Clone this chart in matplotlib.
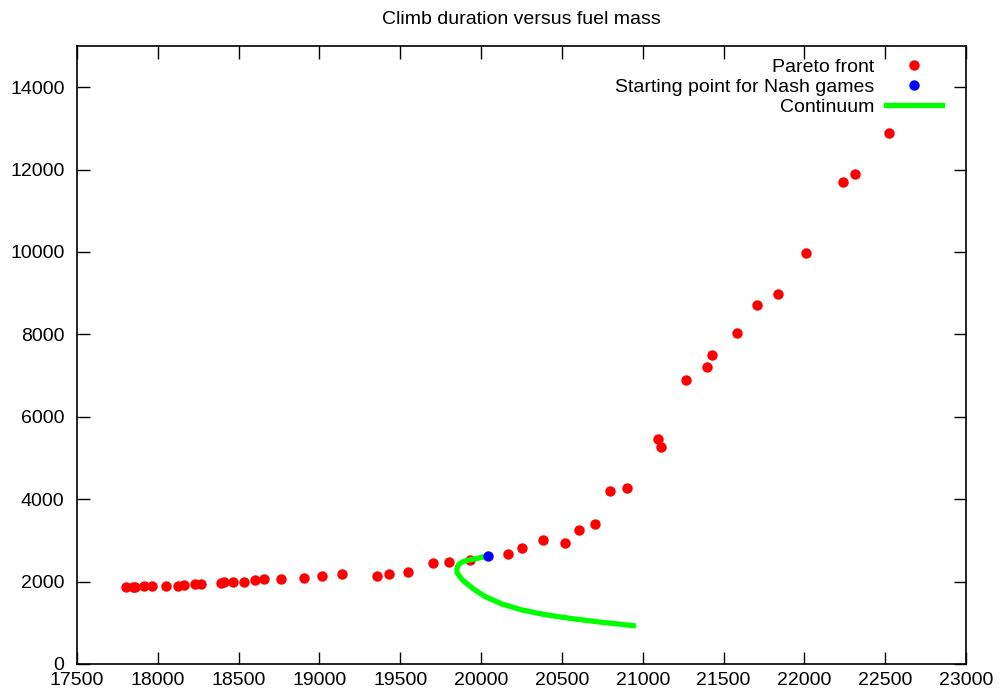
import matplotlib
matplotlib.use("Agg")
import matplotlib.pyplot as plt

plt.rcParams['font.family'] = ['Liberation Sans', 'DejaVu Sans']

# Pareto front: fuel mass vs climb duration
fuel = [17801, 17847, 17861, 17915, 17964, 18053, 18125, 18164, 18228, 18265,
        18389, 18410, 18465, 18533, 18603, 18657, 18760, 18907, 19018, 19138,
        19356, 19431, 19548, 19701, 19804, 19930, 20165, 20252, 20382, 20522,
        20608, 20705, 20800, 20901, 21097, 21116, 21268, 21396, 21429, 21582,
        21708, 21834, 22013, 22242, 22314, 22523]
duration = [1864, 1864, 1864, 1895, 1888, 1903, 1903, 1920, 1936, 1936,
            1968, 1993, 1993, 1993, 2034, 2058, 2058, 2090, 2146, 2194,
            2146, 2187, 2228, 2447, 2486, 2535, 2673, 2811, 3006, 2948,
            3249, 3409, 4187, 4260, 5455, 5270, 6901, 7217, 7497, 8036,
            8724, 8991, 9980, 11705, 11890, 12896]

# starting point for Nash games
nash_fuel = [20045]
nash_duration = [2617]

# continuum curve
cont_fuel = [20045, 20003, 19963, 19920, 19890, 19868, 19856, 19850, 19852, 19864,
             19880, 19901, 19952, 20025, 20128, 20252, 20396, 20561, 20747, 20942]
cont_duration = [2617, 2590, 2552, 2520, 2487, 2440, 2389, 2284, 2210, 2146,
                 2060, 1985, 1823, 1636, 1458, 1312, 1198, 1101, 1013, 931]

fig = plt.figure(figsize=(10.01, 6.97), dpi=100)
ax = fig.add_axes([77/1001, 33/697, 889/1001, 618/697])

ax.plot(fuel, duration, 'o', color='#ff0000', ms=7.5, mew=0, label='Pareto front', zorder=2)
ax.plot(cont_fuel, cont_duration, '-', color='#00ff00', lw=3.8, label='Continuum',
        zorder=3, solid_joinstyle='round')
ax.plot(nash_fuel, nash_duration, 'o', color='#0000ff', ms=7.5, mew=0,
        label='Starting point for Nash games', zorder=4)

ax.set_xlim(17500, 23000)
ax.set_ylim(0, 15000)
ax.set_xticks(range(17500, 23001, 500))
ax.set_yticks(range(0, 14001, 2000))
ax.tick_params(direction='in', length=9, width=1, top=True, right=True, labelsize=14)
ax.tick_params(axis='x', pad=6)
ax.tick_params(axis='y', pad=9)
for s in ax.spines.values():
    s.set_linewidth(1.2)

ax.set_title('Climb duration versus fuel mass', fontsize=14, pad=16)

h, l = ax.get_legend_handles_labels()
order = [0, 2, 1]
ax.legend([h[i] for i in order], [l[i] for i in order], loc='upper right',
          bbox_to_anchor=(1 - 24/889, 1 - 12/618), borderpad=0, borderaxespad=0,
          frameon=False, markerfirst=False, numpoints=1, handlelength=2.9,
          handletextpad=0.6, labelspacing=0.14, fontsize=14)

fig.savefig('out.png', dpi=100)
